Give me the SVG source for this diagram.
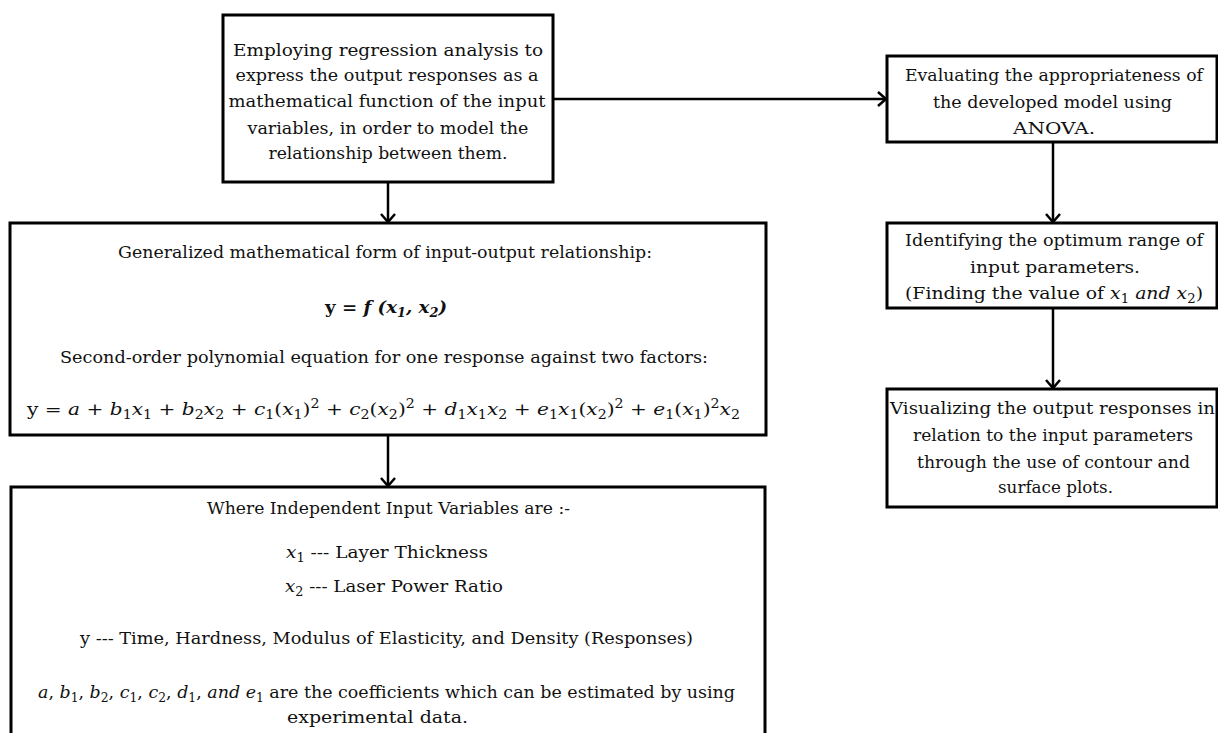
<svg xmlns="http://www.w3.org/2000/svg" width="1218" height="733" viewBox="0 0 1218 733" xml:space="preserve">
<style>
.box{fill:#fff;stroke:#000;stroke-width:3}
.t{font-family:"DejaVu Serif","Liberation Serif",serif;font-size:17px;fill:#111;text-anchor:middle}
.tl{font-family:"DejaVu Serif","Liberation Serif",serif;font-size:17px;fill:#111}
.m{font-style:italic}
.sub{font-size:12px}
.con{fill:none;stroke:#000;stroke-width:2.5}
</style>
<defs>
<marker id="ah" markerUnits="userSpaceOnUse" markerWidth="20" markerHeight="20" refX="10" refY="10" orient="auto" viewBox="0 0 20 20">
<path d="M2,3 L10,10 L2,17" fill="none" stroke="#000" stroke-width="2.5"/>
</marker>
</defs>
<rect width="1218" height="733" fill="#fff"/>
<g id="connectors">
<path class="con" d="M388,182 V222" marker-end="url(#ah)"/>
<path class="con" d="M553,99 H886" marker-end="url(#ah)"/>
<path class="con" d="M388,435 V486" marker-end="url(#ah)"/>
<path class="con" d="M1053,142 V222" marker-end="url(#ah)"/>
<path class="con" d="M1053,308 V388" marker-end="url(#ah)"/>
</g>
<g id="node-regression">
<rect class="box" x="223" y="15" width="330" height="167"/>
<text class="t" x="388" y="56" textLength="310" lengthAdjust="spacingAndGlyphs">Employing  regression  analysis  to</text>
<text class="t" x="387" y="81" textLength="303" lengthAdjust="spacingAndGlyphs">express the output  responses  as a</text>
<text class="t" x="387" y="107" textLength="317" lengthAdjust="spacingAndGlyphs">mathematical  function  of the input</text>
<text class="t" x="388" y="134" textLength="281" lengthAdjust="spacingAndGlyphs">variables,  in order to model the</text>
<text class="t" x="388" y="159" textLength="239" lengthAdjust="spacingAndGlyphs">relationship between them.</text>
</g>
<g id="node-general-form">
<rect class="box" x="10" y="223" width="756" height="212"/>
<text class="t" x="385" y="258" textLength="534" lengthAdjust="spacingAndGlyphs">Generalized mathematical form of input-output relationship:</text>
<text class="t" x="386" y="313" font-weight="bold" textLength="122" lengthAdjust="spacingAndGlyphs">y = <tspan class="m">f (x<tspan class="sub" baseline-shift="-4">1</tspan>, x<tspan class="sub" baseline-shift="-4">2</tspan>)</tspan></text>
<text class="t" x="384" y="363" textLength="648" lengthAdjust="spacingAndGlyphs">Second-order polynomial  equation  for one response against two factors:</text>
<text class="t" x="383.5" y="415" textLength="713" lengthAdjust="spacingAndGlyphs">y = <tspan class="m">a</tspan> + <tspan class="m">b</tspan><tspan class="sub" baseline-shift="-4">1</tspan><tspan class="m">x</tspan><tspan class="sub" baseline-shift="-4">1</tspan> + <tspan class="m">b</tspan><tspan class="sub" baseline-shift="-4">2</tspan><tspan class="m">x</tspan><tspan class="sub" baseline-shift="-4">2</tspan> + <tspan class="m">c</tspan><tspan class="sub" baseline-shift="-4">1</tspan>(<tspan class="m">x</tspan><tspan class="sub" baseline-shift="-4">1</tspan>)<tspan class="sub" baseline-shift="7">2</tspan> + <tspan class="m">c</tspan><tspan class="sub" baseline-shift="-4">2</tspan>(<tspan class="m">x</tspan><tspan class="sub" baseline-shift="-4">2</tspan>)<tspan class="sub" baseline-shift="7">2</tspan> + <tspan class="m">d</tspan><tspan class="sub" baseline-shift="-4">1</tspan><tspan class="m">x</tspan><tspan class="sub" baseline-shift="-4">1</tspan><tspan class="m">x</tspan><tspan class="sub" baseline-shift="-4">2</tspan> + <tspan class="m">e</tspan><tspan class="sub" baseline-shift="-4">1</tspan><tspan class="m">x</tspan><tspan class="sub" baseline-shift="-4">1</tspan>(<tspan class="m">x</tspan><tspan class="sub" baseline-shift="-4">2</tspan>)<tspan class="sub" baseline-shift="7">2</tspan> + <tspan class="m">e</tspan><tspan class="sub" baseline-shift="-4">1</tspan>(<tspan class="m">x</tspan><tspan class="sub" baseline-shift="-4">1</tspan>)<tspan class="sub" baseline-shift="7">2</tspan><tspan class="m">x</tspan><tspan class="sub" baseline-shift="-4">2</tspan></text>
</g>
<g id="node-variables">
<rect class="box" x="11" y="487" width="754" height="260"/>
<text class="t" x="388.5" y="514" textLength="363" lengthAdjust="spacingAndGlyphs">Where Independent Input Variables are :-</text>
<text class="tl" x="286" y="558" textLength="202" lengthAdjust="spacingAndGlyphs"><tspan class="m">x</tspan><tspan class="sub" baseline-shift="-4">1</tspan> --- Layer Thickness</text>
<text class="tl" x="285" y="592" textLength="218" lengthAdjust="spacingAndGlyphs"><tspan class="m">x</tspan><tspan class="sub" baseline-shift="-4">2</tspan> --- Laser Power Ratio</text>
<text class="t" x="386.5" y="644" textLength="613" lengthAdjust="spacingAndGlyphs">y --- Time, Hardness, Modulus of Elasticity, and Density (Responses)</text>
<text class="t" x="386.5" y="698" textLength="697" lengthAdjust="spacingAndGlyphs"><tspan class="m">a</tspan>, <tspan class="m">b</tspan><tspan class="sub" baseline-shift="-4">1</tspan>, <tspan class="m">b</tspan><tspan class="sub" baseline-shift="-4">2</tspan>, <tspan class="m">c</tspan><tspan class="sub" baseline-shift="-4">1</tspan>, <tspan class="m">c</tspan><tspan class="sub" baseline-shift="-4">2</tspan>, <tspan class="m">d</tspan><tspan class="sub" baseline-shift="-4">1</tspan>, <tspan class="m">and e</tspan><tspan class="sub" baseline-shift="-4">1</tspan> are the coefficients which can be estimated by using</text>
<text class="t" x="377.5" y="723" textLength="181" lengthAdjust="spacingAndGlyphs">experimental data.</text>
</g>
<g id="node-anova">
<rect class="box" x="887" y="56" width="330" height="86"/>
<text class="t" x="1054" y="81" textLength="298" lengthAdjust="spacingAndGlyphs">Evaluating the appropriateness of</text>
<text class="t" x="1052.5" y="108" textLength="239" lengthAdjust="spacingAndGlyphs">the developed model using</text>
<text class="t" x="1054" y="134" textLength="82" lengthAdjust="spacingAndGlyphs">ANOVA.</text>
</g>
<g id="node-optimum">
<rect class="box" x="887" y="223" width="330" height="85"/>
<text class="t" x="1054" y="246" textLength="298" lengthAdjust="spacingAndGlyphs">Identifying the optimum range of</text>
<text class="t" x="1055" y="273" textLength="170" lengthAdjust="spacingAndGlyphs">input parameters.</text>
<text class="t" x="1054" y="299" textLength="298" lengthAdjust="spacingAndGlyphs">(Finding the value of <tspan class="m">x</tspan><tspan class="sub" baseline-shift="-4">1</tspan> <tspan class="m">and x</tspan><tspan class="sub" baseline-shift="-4">2</tspan>)</text>
</g>
<g id="node-visualize">
<rect class="box" x="887" y="389" width="330" height="118"/>
<text class="t" x="1052.5" y="414" textLength="325" lengthAdjust="spacingAndGlyphs">Visualizing  the output responses in</text>
<text class="t" x="1053" y="441" textLength="280" lengthAdjust="spacingAndGlyphs">relation  to the input parameters</text>
<text class="t" x="1053.5" y="468" textLength="273" lengthAdjust="spacingAndGlyphs">through the use of contour and</text>
<text class="t" x="1055.5" y="493" textLength="115" lengthAdjust="spacingAndGlyphs">surface  plots.</text>
</g>
</svg>
